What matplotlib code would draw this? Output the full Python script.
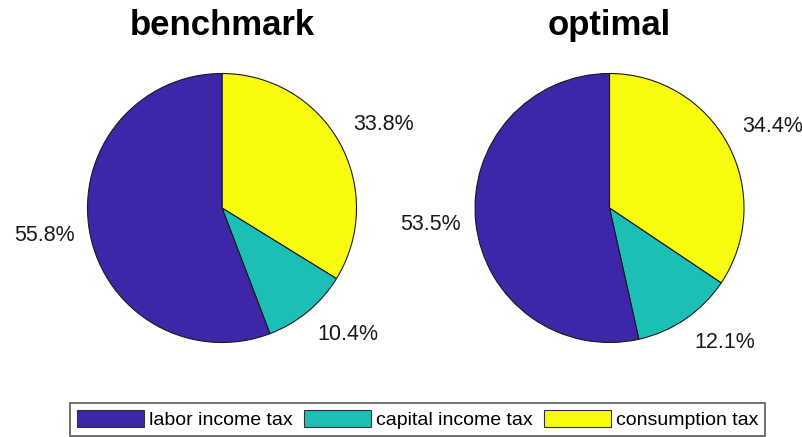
import numpy as np
import matplotlib.pyplot as plt
from matplotlib.patches import Patch

plt.rcParams['font.family'] = ['Liberation Sans', 'DejaVu Sans']

# tax shares (%), drawn clockwise from 12 o'clock: consumption, capital, labor
categories = ['consumption tax', 'capital income tax', 'labor income tax']
benchmark = [33.8, 10.4, 55.8]
optimal = [34.4, 12.1, 53.5]
titles = ['benchmark', 'optimal']
colors = ['#F9FB0E', '#1BBFB6', '#3E26A8']

W, H = 803, 437
fig = plt.figure(figsize=(W / 100, H / 100), dpi=100)

R = 134.5
centers = [(222, 208), (609.5, 208)]

for (cx, cy), shares, title in zip(centers, [benchmark, optimal], titles):
    ax = fig.add_axes([(cx - R) / W, (H - cy - R) / H, 2 * R / W, 2 * R / H])
    wedges, texts = ax.pie(shares, colors=colors, startangle=90, counterclock=False,
                           labels=[f'{v:.1f}%' for v in shares], labeldistance=1.115,
                           wedgeprops=dict(edgecolor='#1a1a1a', linewidth=0.8),
                           textprops=dict(fontsize=15.5, color='#1a1a1a'))
    # labels above the pie sit on their anchor, labels below hang from it
    for w, t in zip(wedges, texts):
        s = np.sin(np.deg2rad((w.theta1 + w.theta2) / 2))
        if s > 0.3:
            t.set_va('bottom')
        elif s < -0.3:
            t.set_va('top')
        else:
            t.set_va('center')
    ax.set_xlim(-1, 1)
    ax.set_ylim(-1, 1)
    ax.set_aspect('equal')
    fig.text(cx / W, 1 - 35 / H, title, ha='center', va='baseline',
             fontsize=25, fontweight='bold')

# legend lists labor first
order = [2, 1, 0]
handles = [Patch(facecolor=colors[i], edgecolor='#333333', linewidth=0.8) for i in order]
leg = fig.legend(handles, [categories[i] for i in order], loc='lower center',
                 bbox_to_anchor=(417.5 / W, 1 / H), ncol=3, fontsize=14,
                 frameon=True, fancybox=False, edgecolor='#404040',
                 handlelength=3.45, handleheight=0.95, handletextpad=0.25,
                 columnspacing=0.6, borderpad=0.35, borderaxespad=0)
leg.get_frame().set_linewidth(1.3)

fig.savefig('out.png', dpi=100)
